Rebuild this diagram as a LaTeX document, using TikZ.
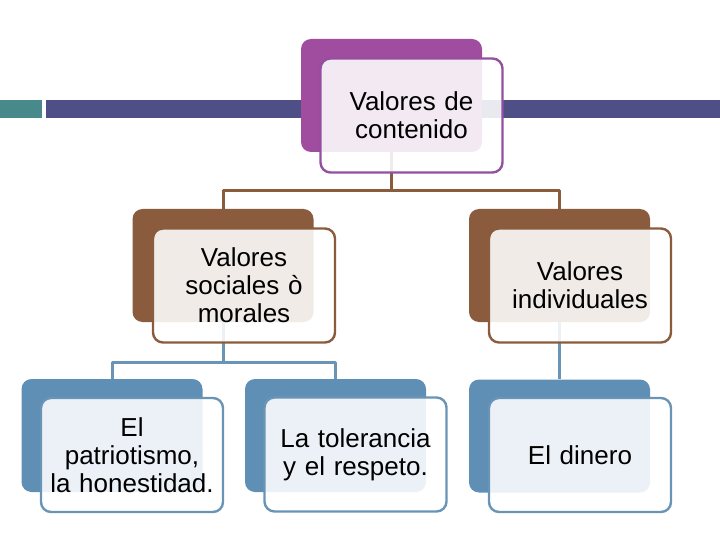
\documentclass[tikz,border=0pt]{standalone}
\usepackage{fontspec}
\setmainfont{Liberation Sans}
\definecolor{plumback}{HTML}{A04C9F}
\definecolor{plumline}{HTML}{9450A0}
\definecolor{brownc}{HTML}{8A5B3D}
\definecolor{bluec}{HTML}{5F8FB5}
\definecolor{blueline}{HTML}{6A94B6}
\definecolor{barc}{HTML}{4F4F87}
\definecolor{tealc}{HTML}{488A8C}
\begin{document}
\begin{tikzpicture}[x=1pt, y=-1pt, line join=round,
    back/.style={rounded corners=10pt, inner sep=0pt,
      minimum width=181pt, minimum height=113pt},
    front/.style={draw, line width=2.4pt, rounded corners=10pt,
      fill=white, fill opacity=0.88, text opacity=1,
      minimum width=182pt, minimum height=114pt, inner sep=2pt,
      text width=175pt, align=center,
      font=\fontsize{26}{28}\selectfont},
    link/.style={line width=3pt}]
  \useasboundingbox (0,0) rectangle (720,540);
  % band behind the title box
  \fill[tealc] (0,100) rectangle (42,118);
  \fill[barc] (46,100) rectangle (720,118);
  % back boxes
  \node[back, fill=plumback] (cont-b) at (391.5,95.5) {};
  \node[back, fill=brownc] (soc-b) at (223,265.5) {};
  \node[back, fill=brownc] (ind-b) at (559.5,265.5) {};
  \node[back, fill=bluec] (pat-b) at (112,435.5) {};
  \node[back, fill=bluec] (tol-b) at (335.5,435.5) {};
  \node[back, fill=bluec] (din-b) at (559.5,436) {};
  % connectors
  \draw[link, brownc] (cont-b.south) -- ++(0,38) -| (soc-b.north);
  \draw[link, brownc] (cont-b.south) -- ++(0,38) -| (ind-b.north);
  \draw[link, blueline] (soc-b.south) -- ++(0,40) -| (pat-b.north);
  \draw[link, blueline] (soc-b.south) -- ++(0,40) -| (tol-b.north);
  \draw[link, blueline] (ind-b.south) -- (din-b.north);
  % front boxes
  \node[front, draw=plumline] (cont-f) at (411.5,115.5) {Valores de\\contenido};
  \node[front, draw=brownc] (soc-f) at (244,285.5) {Valores\\sociales ò\\morales};
  \node[front, draw=brownc] (ind-f) at (580,285.5) {Valores\\individuales};
  \node[front, draw=blueline] (pat-f) at (132,455) {El\\patriotismo,\\la honestidad.};
  \node[front, draw=blueline] (tol-f) at (355.5,454.5) {La tolerancia\\y el respeto.};
  \node[front, draw=blueline] (din-f) at (580,455) {El dinero};
\end{tikzpicture}
\end{document}
